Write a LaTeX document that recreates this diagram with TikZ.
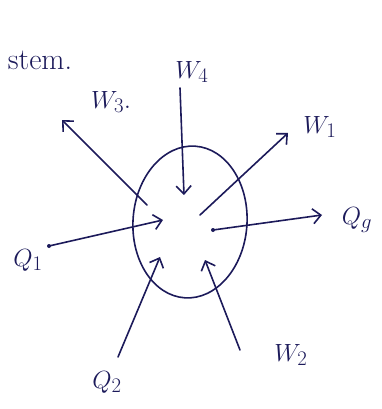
\documentclass[tikz,border=0pt]{standalone}
\usepackage{fontspec}
\usetikzlibrary{arrows.meta,shapes.geometric}
\definecolor{ink}{HTML}{1C1A5A}
\begin{document}
\begin{tikzpicture}[x=1pt,y=-1pt,
  pen/.style={draw=ink,line width=1.6pt,line cap=round},
  flow/.style={pen,-{Straight Barb[length=8pt,width=15pt,line width=1.6pt]}},
  lbl/.style={text=ink,font=\fontsize{30}{34}\selectfont,inner sep=0pt},
  dotend/.style={circle,fill=ink,inner sep=0pt,minimum size=4pt}]
\useasboundingbox (0,0) rectangle (382,409);
\node[pen,ellipse,minimum width=114pt,minimum height=152pt,inner sep=0pt,rotate=-4] (sys) at (190,222) {};
% coordinates
\coordinate (w4s) at (180,88);   \coordinate (w4e) at (184,195);
\coordinate (w3s) at (147,205);  \coordinate (w3e) at (62,120);
\coordinate (w1s) at (200,215);  \coordinate (w1e) at (288,133);
\node[dotend] (qgs) at (213,230) {}; \coordinate (qge) at (322,215);
\coordinate (w2s) at (240,350);  \coordinate (w2e) at (205,260);
\coordinate (q2s) at (118,357);  \coordinate (q2e) at (160,257);
\node[dotend] (q1s) at (49,246) {}; \coordinate (q1e) at (163,220);
% connectors
\draw[flow] (w4s) -- (w4e);
\draw[flow] (w3s) -- (w3e);
\draw[flow] (w1s) -- (w1e);
\draw[flow] (qgs.center) -- (qge);
\draw[flow] (w2s) -- (w2e);
\draw[flow] (q2s) -- (q2e);
\draw[flow] (q1s.center) -- (q1e);
% labels
\node[lbl] (tstem) at (40,60) {stem.};
\node[lbl] (tw3) at (111,102) {$W_3.$};
\node[lbl] (tw4) at (192,72) {$W_4$};
\node[lbl] (tw1) at (320,127) {$W_1$};
\node[lbl] (tqg) at (357,220) {$Q_g$};
\node[lbl] (tq1) at (28,260) {$Q_1$};
\node[lbl] (tq2) at (107,382) {$Q_2$};
\node[lbl] (tw2) at (291,355) {$W_2$};
\end{tikzpicture}
\end{document}
